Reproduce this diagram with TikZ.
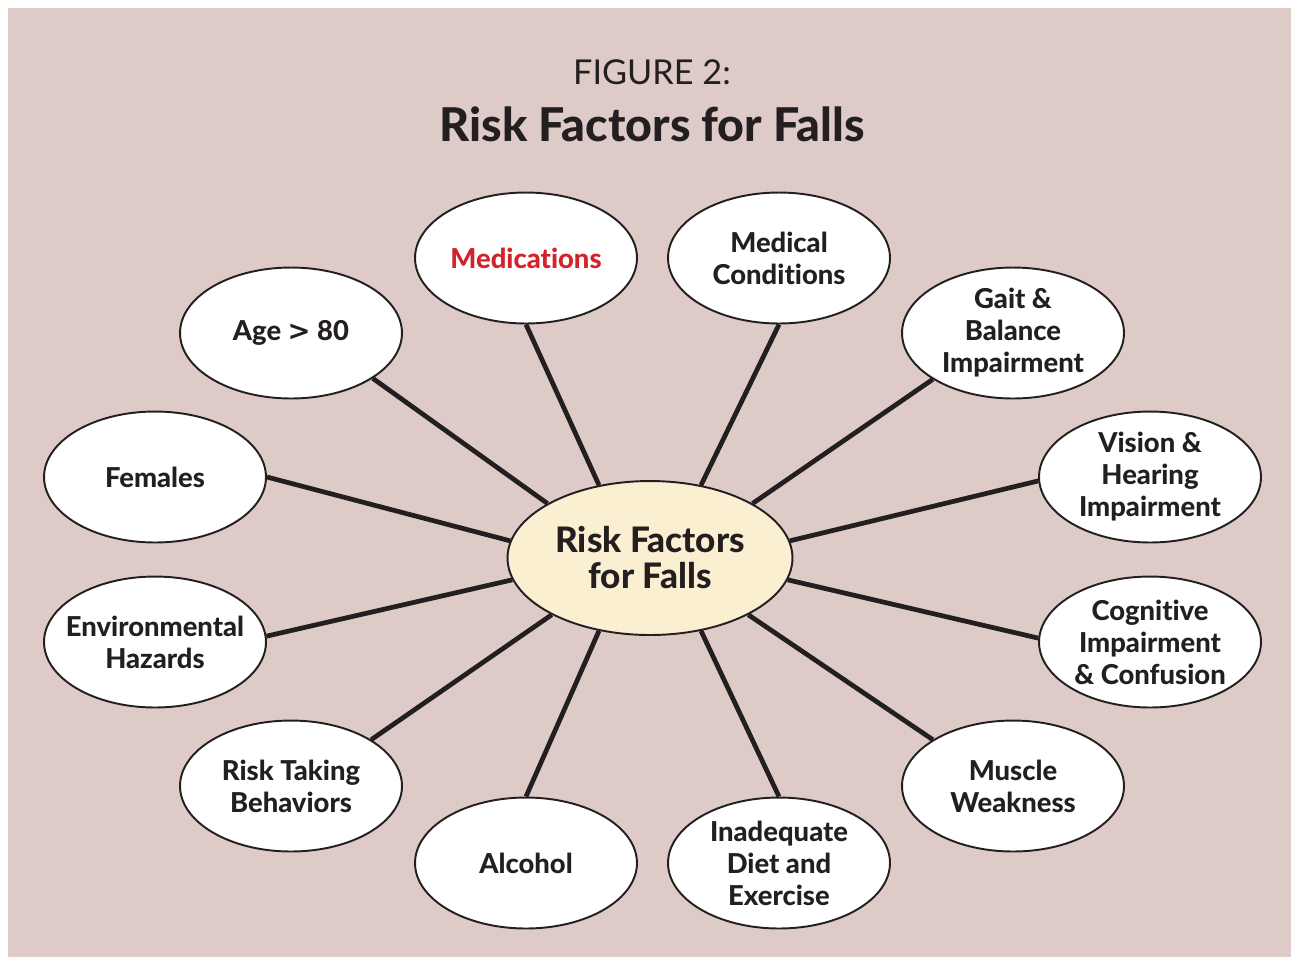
\documentclass[tikz,border=0pt]{standalone}
\usepackage{fontspec}
\setmainfont{Lato}[BoldFont={Lato Heavy},Ligatures=NoCommon]
\newfontfamily\symfont{DejaVu Sans}
\usepackage{tikz}
\usetikzlibrary{shapes.geometric}
\definecolor{bgpink}{HTML}{DECBC8}
\definecolor{hubcream}{HTML}{FAEFD1}
\definecolor{inkdark}{HTML}{231F20}
\definecolor{medred}{HTML}{D2232A}

\begin{document}
\begin{tikzpicture}[x=0.02cm,y=-0.02cm]
\tikzstyle{factor}=[ellipse,draw=inkdark,fill=white,line width=1.1pt,minimum width=4.44cm,minimum height=2.62cm,inner xsep=-1cm,inner ysep=-0.3cm,align=center,text=inkdark,font=\fontsize{15.6}{18.2}\selectfont\bfseries]
\tikzstyle{hubnode}=[factor,fill=hubcream,minimum width=5.7cm,minimum height=3.08cm,font=\fontsize{20}{20.5}\selectfont\bfseries]
\tikzstyle{spoke}=[line width=2.7pt,draw=inkdark]
\useasboundingbox (0,0) rectangle (1297,958);
\fill[bgpink] (8,8) rectangle (1291,957);
\node[text=inkdark,font=\fontsize{19.5}{22}\selectfont] (fig) at (652,72) {FIGURE 2:};
\node[text=inkdark,font=\fontsize{26.5}{28}\selectfont\bfseries] (title) at (652,124) {Risk Factors for Falls};
\node[hubnode] (hub) at (650,558) {Risk Factors\\for Falls};
\foreach \name/\point/\label in {
	age/{291,333}/{Age {\symfont >} 80},
	females/{155,477}/{Females},
	enviro/{155,642}/{Environmental\\Hazards},
	risk/{291,786}/{Risk Taking\\Behaviors},
	alcohol/{526,863}/{Alcohol},
	diet/{779,863}/{Inadequate\\Diet and\\Exercise},
	muscle/{1013,786}/{Muscle\\Weakness},
	cogn/{1150,642}/{Cognitive\\Impairment\\\& Confusion},
	vision/{1150,477}/{Vision \&\\Hearing\\Impairment},
	gait/{1013,333}/{Gait \&\\Balance\\Impairment},
	medcond/{779,258}/{Medical\\Conditions}}
	\node[factor] (\name) at (\point) {\label};
\node[factor,text=medred] (meds) at (526,258) {Medications};
% spokes
\foreach \name/\from/\to in {
	age/-29/152,
	females/0/173,
	enviro/3/189,
	risk/30/210,
	alcohol/90/235,
	diet/90/305,
	muscle/150/330,
	cogn/178/351,
	vision/182/7,
	gait/210/28,
	medcond/270/55,
	meds/270/125}
	\draw[spoke] (\name.\from) -- (hub.\to);
\end{tikzpicture}
\end{document}
